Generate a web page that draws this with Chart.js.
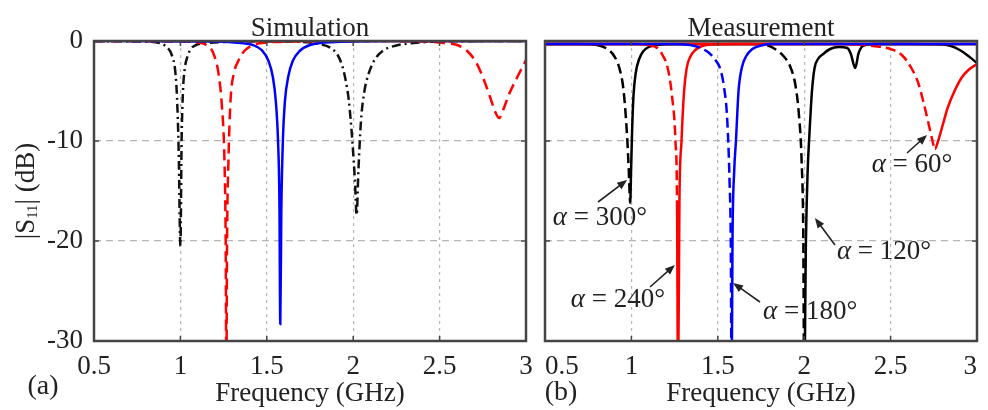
<!DOCTYPE html>
<html lang="en">
<head>
<meta charset="UTF-8">
<title>|S11| simulation and measurement</title>
<script src="https://cdn.jsdelivr.net/npm/chart.js"></script>
<style>
  body { margin: 0; background: #fff; }
  .wrap { position: relative; width: 988px; height: 410px; overflow: hidden; }
  .panel { position: absolute; top: 0; height: 410px; }
  #simPanel { left: 0; width: 535px; }
  #measPanel { left: 515px; width: 473px; }
</style>
</head>
<body>
<div class="wrap">
  <div class="panel" id="simPanel"><canvas id="simChart"></canvas></div>
  <div class="panel" id="measPanel"><canvas id="measChart"></canvas></div>
</div>
<script>
  // axis ticks
  const xTicks = [0.5, 1, 1.5, 2, 2.5, 3];
  const yTicks = [0, -10, -20, -30];

  // simulation, panel (a)
  const freqSim300 = [0.5, 0.8, 0.88, 0.92, 0.95, 0.97, 0.98, 0.99, 1.0, 1.007, 1.015, 1.025, 1.04, 1.06, 1.09, 1.15, 1.25, 1.5, 2.0, 2.5, 3.0];
  const dbSim300   = [0, -0.05, -0.2, -0.6, -1.4, -3.0, -5.5, -11, -20.5, -10, -5, -2.8, -1.6, -0.8, -0.4, -0.2, -0.1, 0, 0, 0, 0];

  const freqSim240 = [0.5, 1.0, 1.1, 1.15, 1.19, 1.22, 1.24, 1.255, 1.262, 1.266, 1.27, 1.278, 1.29, 1.31, 1.335, 1.37, 1.42, 1.5, 1.7, 2.0, 3.0];
  const dbSim240   = [0, -0.05, -0.15, -0.4, -1.2, -3.2, -6.5, -12, -20, -34, -20, -12, -6, -3.2, -2.0, -1.0, -0.4, -0.15, -0.05, 0, 0];

  const freqSim180 = [0.5, 1.2, 1.35, 1.42, 1.47, 1.51, 1.535, 1.552, 1.565, 1.573, 1.578, 1.584, 1.593, 1.605, 1.625, 1.65, 1.69, 1.75, 1.9, 2.2, 3.0];
  const dbSim180   = [0, -0.05, -0.2, -0.4, -0.9, -2.0, -3.6, -6, -10, -16, -28.3, -17, -10, -6, -3.5, -2, -1, -0.4, -0.1, 0, 0];

  const freqSim120 = [0.5, 1.6, 1.8, 1.87, 1.91, 1.935, 1.955, 1.975, 1.995, 2.01, 2.02, 2.03, 2.045, 2.065, 2.085, 2.12, 2.17, 2.25, 2.35, 2.5, 3.0];
  const dbSim120   = [0, -0.05, -0.3, -0.7, -1.4, -2.4, -3.8, -6, -10, -14, -17.4, -13, -8, -5, -3.5, -2.0, -1.0, -0.45, -0.2, -0.05, 0];

  const freqSim60 = [0.5, 2.0, 2.4, 2.5, 2.56, 2.61, 2.66, 2.71, 2.75, 2.79, 2.82, 2.845, 2.87, 2.9, 2.95, 3.0];
  const dbSim60   = [0, 0, -0.05, -0.15, -0.25, -0.45, -1.0, -2.1, -3.6, -5.5, -7.0, -7.7, -6.8, -5.4, -3.6, -1.9];

  // measurement, panel (b); the falling side of each dip is dashed
  const freqMeas300 = [0.5, 0.7, 0.8, 0.86, 0.9, 0.93, 0.955, 0.975, 0.985, 0.993, 0.998, 1.004, 1.012, 1.025, 1.045, 1.07, 1.1, 1.15, 1.25, 1.5, 2.0, 2.5, 3.0];
  const dbMeas300   = [-0.3, -0.3, -0.4, -0.8, -1.5, -2.7, -5, -9.5, -13, -16.2, -13, -9, -5.5, -3.2, -1.8, -1.0, -0.6, -0.4, -0.3, -0.3, -0.3, -0.3, -0.3];
  const dashMeas300 = [0.8, 0.993];

  const freqMeas240 = [0.5, 1.0, 1.1, 1.15, 1.18, 1.21, 1.235, 1.255, 1.264, 1.27, 1.278, 1.29, 1.305, 1.32, 1.34, 1.37, 1.41, 1.47, 1.6, 2.0, 2.5, 3.0];
  const dbMeas240   = [-0.3, -0.3, -0.4, -0.7, -1.4, -2.7, -5.5, -10, -16, -35, -16, -10, -5, -2.7, -1.6, -0.9, -0.5, -0.35, -0.3, -0.3, -0.3, -0.3];
  const dashMeas240 = [1.1, 1.264];

  const freqMeas180 = [0.5, 1.2, 1.34, 1.4, 1.45, 1.49, 1.51, 1.535, 1.555, 1.568, 1.575, 1.58, 1.585, 1.595, 1.605, 1.62, 1.64, 1.665, 1.7, 1.74, 1.8, 2.0, 3.0];
  const dbMeas180   = [-0.3, -0.3, -0.4, -0.7, -1.2, -2.0, -2.6, -4.5, -8, -14, -20, -35, -20, -13, -10, -5, -2.6, -1.5, -0.8, -0.5, -0.3, -0.3, -0.3];
  const dashMeas180 = [1.34, 1.578];

  const freqMeas120 = [0.5, 1.5, 1.7, 1.78, 1.84, 1.88, 1.92, 1.95, 1.97, 1.985, 1.995, 2.0, 2.01, 2.02, 2.03, 2.045, 2.06, 2.08, 2.11, 2.15, 2.2, 2.25, 2.27, 2.295, 2.315, 2.34, 2.4, 2.6, 2.8, 2.85, 2.9, 2.95, 3.0];
  const dbMeas120   = [-0.3, -0.3, -0.3, -0.4, -0.9, -1.5, -2.6, -4.5, -7.5, -12, -20, -35, -20, -13, -9.4, -5, -2.7, -1.8, -1.3, -0.8, -0.6, -0.7, -1.3, -2.7, -1.2, -0.5, -0.3, -0.3, -0.35, -0.5, -0.9, -1.5, -2.2];
  const dashMeas120 = [1.7, 1.998];

  const freqMeas60 = [0.5, 2.0, 2.2, 2.3, 2.4, 2.5, 2.565, 2.62, 2.66, 2.69, 2.72, 2.74, 2.757, 2.775, 2.8, 2.83, 2.87, 2.91, 2.95, 3.0];
  const dbMeas60   = [-0.3, -0.3, -0.3, -0.35, -0.5, -0.8, -1.4, -2.7, -4.2, -6.1, -8.3, -9.8, -10.8, -10, -8.5, -6.7, -5, -3.7, -2.9, -2.3];
  const dashMeas60 = [2.3, 2.757];

  const pts = (f, d) => f.map((x, i) => ({ x: x, y: d[i] }));

  const serif = '"Liberation Serif", "DejaVu Serif", serif';
  const ink = '#222';

  // frame, inner ticks, panel tag, y label, arrows
  function makeDecor(cfg) {
    return {
      id: 'decor',
      afterDraw(chart) {
        const ctx = chart.ctx;
        const a = chart.chartArea;
        const sx = chart.scales.x, sy = chart.scales.y;
        ctx.save();
        ctx.strokeStyle = '#444';
        ctx.lineWidth = 2.5;
        ctx.strokeRect(a.left, a.top, a.right - a.left, a.bottom - a.top);
        ctx.lineWidth = 1.5;
        ctx.beginPath();
        xTicks.forEach(v => {
          const px = sx.getPixelForValue(v);
          ctx.moveTo(px, a.bottom); ctx.lineTo(px, a.bottom - 5);
          ctx.moveTo(px, a.top); ctx.lineTo(px, a.top + 5);
        });
        yTicks.forEach(v => {
          const py = sy.getPixelForValue(v);
          ctx.moveTo(a.left, py); ctx.lineTo(a.left + 5, py);
          ctx.moveTo(a.right, py); ctx.lineTo(a.right - 5, py);
        });
        ctx.stroke();

        ctx.fillStyle = ink;
        ctx.textBaseline = 'middle';
        ctx.textAlign = 'center';
        ctx.font = '28px ' + serif;
        ctx.fillText(cfg.tag, a.left + cfg.tagDx, cfg.tagY);

        if (cfg.yLabel) {
          ctx.save();
          ctx.translate(27, (a.top + a.bottom) / 2);
          ctx.rotate(-Math.PI / 2);
          ctx.textAlign = 'left';
          const big = '27px ' + serif, small = '15px ' + serif;
          ctx.font = big;
          const w1 = ctx.measureText('|S').width;
          const w3 = ctx.measureText('| (dB)').width;
          ctx.font = small;
          const w2 = ctx.measureText('11').width;
          let x0 = -(w1 + w2 + w3) / 2;
          ctx.font = big; ctx.fillText('|S', x0, 0); x0 += w1;
          ctx.font = small; ctx.fillText('11', x0, 6); x0 += w2;
          ctx.font = big; ctx.fillText('| (dB)', x0, 0);
          ctx.restore();
        }

        (cfg.notes || []).forEach(n => {
          const tx = sx.getPixelForValue(n.from[0]), ty = sy.getPixelForValue(n.from[1]);
          const hx = sx.getPixelForValue(n.to[0]), hy = sy.getPixelForValue(n.to[1]);
          const ang = Math.atan2(hy - ty, hx - tx);
          ctx.strokeStyle = ink;
          ctx.lineWidth = 1.6;
          ctx.beginPath();
          ctx.moveTo(tx, ty);
          ctx.lineTo(hx - 6 * Math.cos(ang), hy - 6 * Math.sin(ang));
          ctx.stroke();
          ctx.beginPath();
          ctx.moveTo(hx, hy);
          ctx.lineTo(hx - 10 * Math.cos(ang) + 4 * Math.sin(ang), hy - 10 * Math.sin(ang) - 4 * Math.cos(ang));
          ctx.lineTo(hx - 10 * Math.cos(ang) - 4 * Math.sin(ang), hy - 10 * Math.sin(ang) + 4 * Math.cos(ang));
          ctx.closePath();
          ctx.fill();

          const cx = sx.getPixelForValue(n.x), cy = sy.getPixelForValue(n.y);
          const it = 'italic 27px ' + serif, rm = '27px ' + serif;
          const rest = ' = ' + n.label;
          ctx.font = it; const wa = ctx.measureText('\u03b1').width;
          ctx.font = rm; const wr = ctx.measureText(rest).width;
          let x0 = cx - (wa + wr) / 2;
          ctx.textAlign = 'left';
          ctx.font = it; ctx.fillText('\u03b1', x0, cy);
          ctx.font = rm; ctx.fillText(rest, x0 + wa, cy);
        });
        ctx.restore();
      }
    };
  }

  function curve(data, color, dash, dashRange) {
    const ds = {
      data: data,
      borderColor: color,
      borderWidth: 2.5,
      borderDash: dash || [],
      pointRadius: 0,
      fill: false,
      cubicInterpolationMode: 'monotone'
    };
    if (dashRange) {
      ds.segment = {
        borderDash: c => (c.p0.parsed.x >= dashRange[0] && c.p0.parsed.x < dashRange[1]) ? [10, 5] : undefined
      };
    }
    return ds;
  }

  function makePanel(id, title, datasets, yWidth, padRight, decor, showY, xAlign) {
    return new Chart(document.getElementById(id), {
      type: 'line',
      data: { datasets: datasets },
      options: {
        responsive: true,
        maintainAspectRatio: false,
        animation: false,
        layout: { padding: { left: 0, right: padRight, top: 0, bottom: 0 } },
        plugins: {
          legend: { display: false },
          tooltip: { enabled: false },
          title: {
            display: true, text: title, fullSize: false, color: ink,
            font: { family: serif, size: 27, weight: 'normal', lineHeight: 1 },
            padding: { top: 15, bottom: -1 }
          }
        },
        scales: {
          x: {
            type: 'linear', min: 0.5, max: 3,
            afterBuildTicks: s => { s.ticks = xTicks.map(v => ({ value: v })); },
            afterFit: s => { s.height = 69; s.paddingLeft = 0; s.paddingRight = 0; },
            ticks: { color: ink, padding: 10, align: xAlign, font: { family: serif, size: 27 }, callback: v => String(v) },
            grid: { color: '#b5b5b5', lineWidth: 1.2, drawTicks: false },
            border: { display: false, dash: [3, 4] },
            title: {
              display: true, text: 'Frequency (GHz)', color: ink,
              font: { family: serif, size: 27, lineHeight: 1 }, padding: { top: 0, bottom: 3 }
            }
          },
          y: {
            min: -30, max: 0,
            afterBuildTicks: s => { s.ticks = yTicks.map(v => ({ value: v })); },
            afterFit: s => { s.width = yWidth; s.paddingTop = 0; s.paddingBottom = 0; },
            ticks: { display: showY, color: ink, padding: 11, font: { family: serif, size: 27 }, callback: v => String(v) },
            grid: { color: '#b5b5b5', lineWidth: 1.2, drawTicks: false },
            border: { display: false, dash: [7, 5] }
          }
        }
      },
      plugins: [decor]
    });
  }

  makePanel('simChart', 'Simulation', [
    curve(pts(freqSim180, dbSim180), '#0000ff'),
    curve(pts(freqSim240, dbSim240), '#ff0000', [11, 6]),
    curve(pts(freqSim60, dbSim60), '#ff0000', [11, 6]),
    curve(pts(freqSim300, dbSim300), '#111', [9, 4, 2, 4]),
    curve(pts(freqSim120, dbSim120), '#111', [9, 4, 2, 4])
  ], 94, 9, makeDecor({ tag: '(a)', tagDx: -51, tagY: 387, yLabel: true }), true, 'center');

  makePanel('measChart', 'Measurement', [
    curve(pts(freqMeas180, dbMeas180), '#0000ff', [], dashMeas180),
    curve(pts(freqMeas240, dbMeas240), '#ff0000', [], dashMeas240),
    curve(pts(freqMeas60, dbMeas60), '#ff0000', [], dashMeas60),
    curve(pts(freqMeas300, dbMeas300), '#000', [], dashMeas300),
    curve(pts(freqMeas120, dbMeas120), '#000', [], dashMeas120)
  ], 30, 11, makeDecor({
    tag: '(b)', tagDx: 16, tagY: 393, yLabel: false,
    notes: [
      { label: '300\u00b0', x: 0.818, y: -17.7, from: [0.807, -16.1], to: [0.975, -13.9] },
      { label: '240\u00b0', x: 0.922, y: -25.9, from: [1.108, -24.6], to: [1.252, -22.4] },
      { label: '180\u00b0', x: 2.034, y: -27.1, from: [1.744, -26.1], to: [1.588, -24.2] },
      { label: '120\u00b0', x: 2.462, y: -21.1, from: [2.178, -20.4], to: [2.062, -17.7] },
      { label: '60\u00b0', x: 2.624, y: -12.4, from: [2.595, -11.2], to: [2.711, -9.4] }
    ]
  }), false, 'inner');
</script>
</body>
</html>
